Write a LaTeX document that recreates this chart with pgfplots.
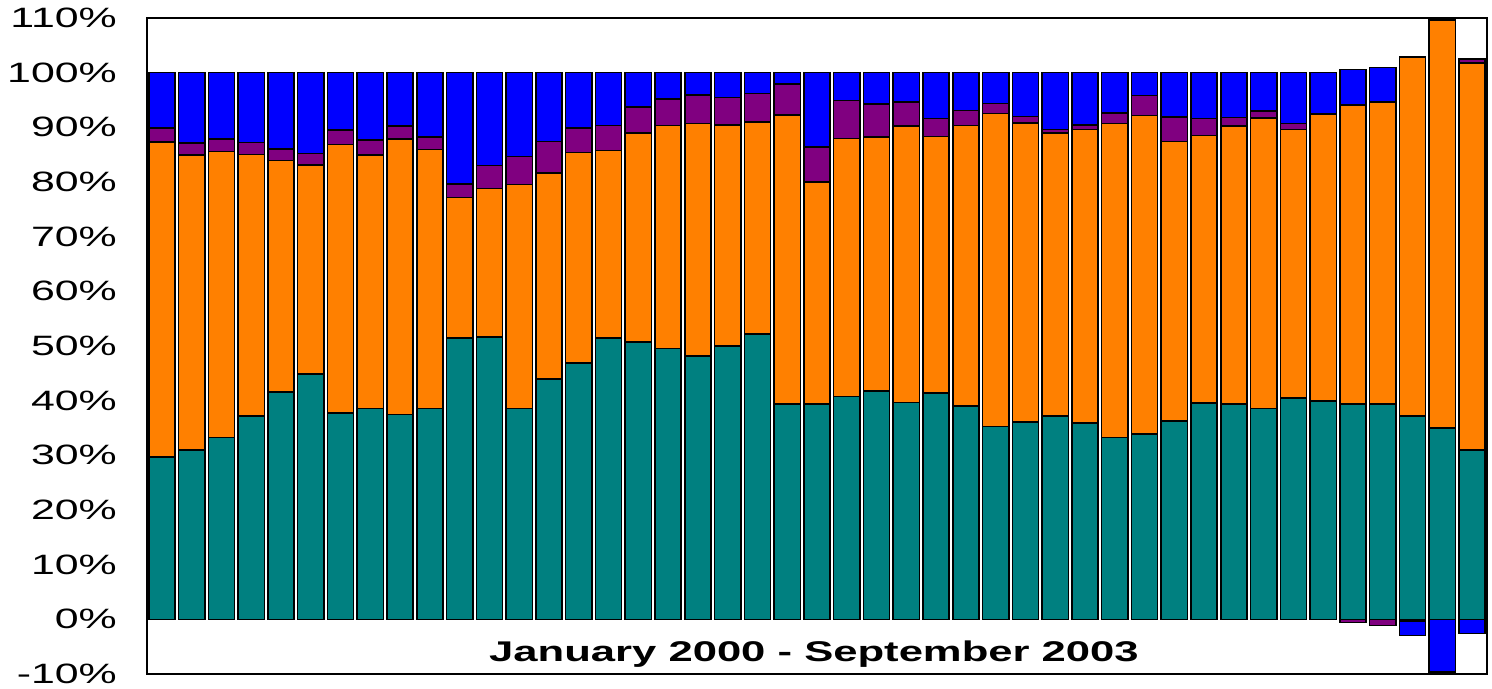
\documentclass[border=0pt]{standalone}
\usepackage{pgfplots}
\pgfplotsset{compat=1.18}
\usepackage{pgfplotstable}
\usepackage{fontspec}
\setmainfont{Liberation Sans}[FakeStretch=1.53]
\definecolor{cteal}{HTML}{008080}
\definecolor{corange}{HTML}{FF8000}
\definecolor{cpurple}{HTML}{800080}
\definecolor{cblue}{HTML}{0000FF}

\pgfplotstableread{
x teal orange purple blue
1 29.7 57.6 2.6 10.1
2 31.0 53.9 2.2 12.9
3 33.3 52.3 2.3 12.1
4 37.2 47.8 2.2 12.8
5 41.6 42.3 2.1 14.0
6 44.9 38.2 2.1 14.8
7 37.7 49.2 2.6 10.5
8 38.6 46.3 2.8 12.3
9 37.5 50.4 2.3 9.8
10 38.6 47.3 2.3 11.8
11 51.5 25.7 2.4 20.4
12 51.6 27.2 4.2 17.0
13 38.6 40.9 5.2 15.3
14 44.0 37.6 5.8 12.6
15 46.9 38.5 4.5 10.1
16 51.5 34.3 4.5 9.7
17 50.7 38.3 4.7 6.3
18 49.5 40.8 4.9 4.8
19 48.2 42.5 5.2 4.1
20 50.0 40.4 5.1 4.5
21 52.2 38.8 5.2 3.8
22 39.4 52.9 5.6 2.1
23 39.4 40.6 6.4 13.6
24 40.8 47.2 6.9 5.1
25 41.8 46.4 6.1 5.7
26 39.7 50.5 4.4 5.4
27 41.4 46.9 3.3 8.4
28 39.0 51.3 2.8 6.9
29 35.3 57.2 1.9 5.6
30 36.1 54.7 1.2 8.0
31 37.2 51.8 0.6 10.4
32 35.9 53.7 0.8 9.6
33 33.3 57.4 1.9 7.4
34 33.9 58.3 3.6 4.2
35 36.3 51.1 4.5 8.1
36 39.6 48.9 3.1 8.4
37 39.4 50.8 1.6 8.2
38 38.6 53.1 1.3 7.0
39 40.5 49.1 1.1 9.3
40 39.9 52.5 0.0 7.6
41 39.4 54.7 0.0 6.5
42 39.4 55.2 0.0 6.3
43 37.2 65.7 0.0 0.0
44 35.0 74.6 0.0 0.0
45 31.0 70.8 0.7 0.0
}\pos

\pgfplotstableread{
x purple blue
41 -0.6 0
42 -1.1 0
43 -0.3 -2.7
44 0 -9.6
45 0 -2.6
}\negv

\pgfplotsset{
  mybars/.style={
    scale only axis, width=1340bp, height=656bp,
    xmin=0.5, xmax=45.5, ymin=-10, ymax=110,
    ybar stacked, bar width=0.88,
    at={(0,0)}, anchor=south west,
    every axis plot/.append style={draw=black, line width=1.5bp},
  }
}

\begin{document}
\begin{tikzpicture}
\useasboundingbox (-147bp,-15bp) rectangle (1345bp,674bp);
\begin{axis}[mybars,
  axis line style={line width=1.2bp, black},
  xtick=\empty,
  ytick={-10,0,...,110},
  major tick length=0pt,
  /pgf/number format/assume math mode=true,
  yticklabel={\pgfmathprintnumber{\tick}\%},
  yticklabel style={font=\fontsize{28bp}{30bp}\selectfont, anchor=east, inner sep=0pt, xshift=-30bp},
  clip=false,
]
\addplot[fill=cteal] table[x=x,y=teal] {\pos};
\addplot[fill=corange] table[x=x,y=orange] {\pos};
\addplot[fill=cpurple] table[x=x,y=purple] {\pos};
\addplot[fill=cblue] table[x=x,y=blue] {\pos};
\node[font=\bfseries\fontsize{28.5bp}{30bp}\selectfont] at (axis cs:22.9,-6.4) {January 2000 - September 2003};
\end{axis}
\begin{axis}[mybars, hide axis, clip=false]
\addplot[fill=cpurple] table[x=x,y=purple] {\negv};
\addplot[fill=cblue] table[x=x,y=blue] {\negv};
\end{axis}
\end{tikzpicture}
\end{document}
